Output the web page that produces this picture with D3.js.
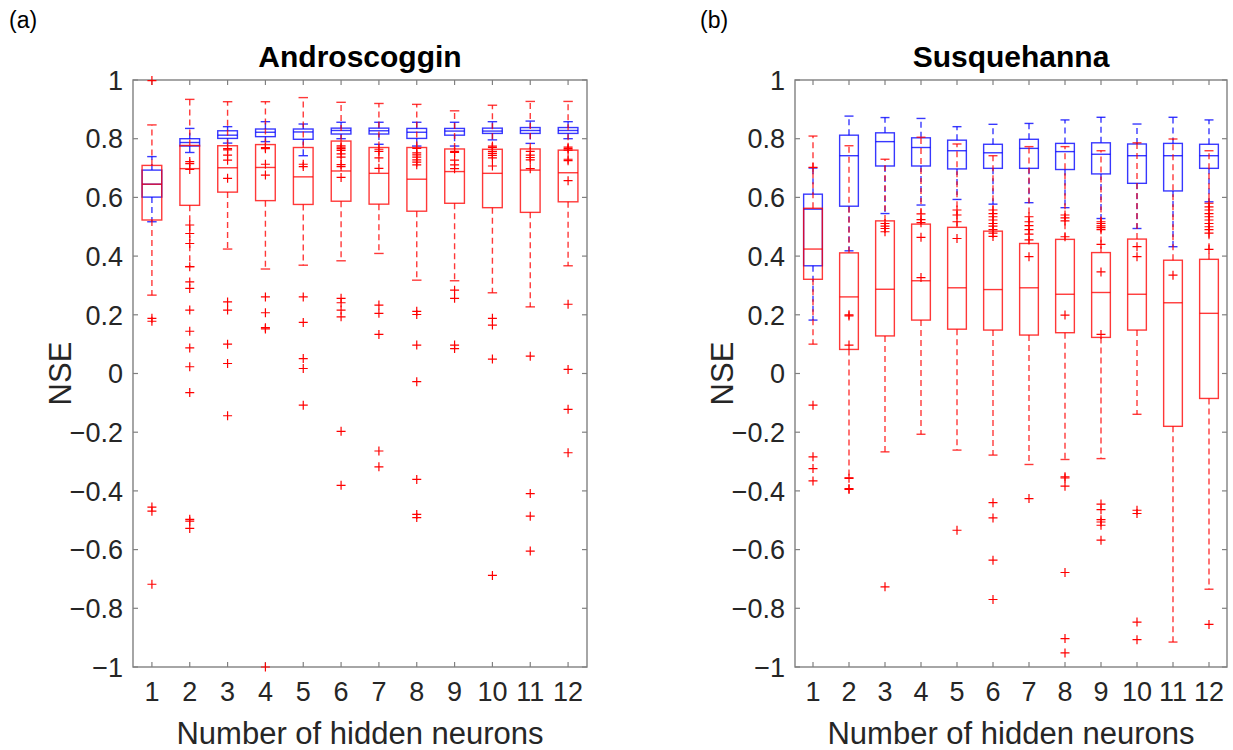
<!DOCTYPE html>
<html>
<head>
<meta charset="utf-8">
<script src="https://cdn.jsdelivr.net/npm/d3@7"></script>
<style>
  body { margin: 0; background: #fff; }
  text { font-family: "Liberation Sans", Arial, Helvetica, sans-serif; }
</style>
</head>
<body>
<svg id="chart" width="1233" height="750"></svg>
<script>
// hidden neuron counts (x categories) and y ticks
const neurons = [1, 2, 3, 4, 5, 6, 7, 8, 9, 10, 11, 12];
const yTicks = [1, 0.8, 0.6, 0.4, 0.2, 0, -0.2, -0.4, -0.6, -0.8, -1];

// each entry: [lower whisker, q1, median, q3, upper whisker]
const androBlue = [
  [0.517, 0.601, 0.645, 0.693, 0.739], [0.753, 0.775, 0.787, 0.800, 0.835],
  [0.785, 0.801, 0.812, 0.827, 0.841], [0.790, 0.807, 0.822, 0.833, 0.858],
  [0.742, 0.798, 0.823, 0.833, 0.850], [0.800, 0.816, 0.828, 0.836, 0.856],
  [0.781, 0.816, 0.827, 0.836, 0.856], [0.775, 0.801, 0.822, 0.835, 0.856],
  [0.775, 0.812, 0.826, 0.835, 0.856], [0.796, 0.818, 0.826, 0.836, 0.858],
  [0.784, 0.818, 0.828, 0.838, 0.860], [0.800, 0.818, 0.828, 0.838, 0.858]
];
const androRed = [
  [0.267, 0.523, 0.645, 0.709, 0.847], [0.364, 0.573, 0.698, 0.777, 0.934],
  [0.424, 0.618, 0.701, 0.776, 0.926], [0.356, 0.589, 0.702, 0.780, 0.926],
  [0.369, 0.576, 0.670, 0.770, 0.940], [0.384, 0.587, 0.690, 0.792, 0.924],
  [0.409, 0.577, 0.682, 0.770, 0.920], [0.318, 0.553, 0.662, 0.770, 0.917],
  [0.316, 0.580, 0.688, 0.765, 0.895], [0.275, 0.565, 0.682, 0.764, 0.914],
  [0.227, 0.549, 0.693, 0.765, 0.927], [0.367, 0.585, 0.684, 0.761, 0.927]
];
const androOutliers = [
  [0.998, 0.188, 0.178, -0.455, -0.469, -0.718],
  [0.722, 0.715, 0.695, 0.506, 0.477, 0.443, 0.364, 0.312, 0.290, 0.216, 0.144, 0.087, 0.023, -0.065, -0.497, -0.503, -0.528],
  [0.766, 0.762, 0.744, 0.727, 0.665, 0.244, 0.216, 0.100, 0.034, -0.144],
  [0.770, 0.766, 0.713, 0.676, 0.261, 0.207, 0.156, 0.152, -1.0],
  [0.713, 0.705, 0.261, 0.174, 0.051, 0.017, -0.108],
  [0.776, 0.771, 0.766, 0.760, 0.748, 0.737, 0.712, 0.705, 0.668, 0.256, 0.241, 0.216, 0.193, -0.197, -0.381],
  [0.764, 0.757, 0.735, 0.699, 0.233, 0.205, 0.133, -0.264, -0.318],
  [0.767, 0.752, 0.745, 0.737, 0.728, 0.720, 0.711, 0.212, 0.201, 0.097, -0.028, -0.361, -0.480, -0.491],
  [0.757, 0.753, 0.727, 0.711, 0.698, 0.284, 0.256, 0.097, 0.085],
  [0.775, 0.770, 0.757, 0.750, 0.743, 0.735, 0.707, 0.188, 0.165, 0.049, -0.688],
  [0.757, 0.744, 0.736, 0.728, 0.698, 0.059, -0.409, -0.486, -0.605],
  [0.771, 0.766, 0.761, 0.730, 0.725, 0.657, 0.236, 0.014, -0.122, -0.270]
];

const susqBlue = [
  [0.182, 0.367, 0.560, 0.611, 0.700], [0.418, 0.570, 0.742, 0.812, 0.877],
  [0.545, 0.707, 0.790, 0.820, 0.872], [0.574, 0.707, 0.770, 0.803, 0.869],
  [0.593, 0.697, 0.759, 0.795, 0.841], [0.577, 0.699, 0.752, 0.781, 0.849],
  [0.582, 0.699, 0.767, 0.798, 0.852], [0.565, 0.695, 0.756, 0.784, 0.864],
  [0.528, 0.680, 0.747, 0.786, 0.873], [0.494, 0.648, 0.742, 0.782, 0.850],
  [0.432, 0.622, 0.742, 0.784, 0.873], [0.585, 0.699, 0.742, 0.781, 0.864]
];
const susqRed = [
  [0.100, 0.321, 0.424, 0.563, 0.809], [-0.355, 0.082, 0.261, 0.411, 0.776],
  [-0.267, 0.128, 0.287, 0.520, 0.730], [-0.207, 0.182, 0.316, 0.509, 0.805],
  [-0.261, 0.151, 0.292, 0.498, 0.782], [-0.278, 0.148, 0.286, 0.485, 0.742],
  [-0.310, 0.131, 0.292, 0.443, 0.773], [-0.293, 0.139, 0.270, 0.457, 0.773],
  [-0.290, 0.123, 0.276, 0.412, 0.759], [-0.139, 0.148, 0.270, 0.458, 0.786],
  [-0.915, -0.180, 0.241, 0.386, 0.799], [-0.735, -0.085, 0.205, 0.389, 0.759]
];
const susqOutliers = [
  [0.702, -0.108, -0.284, -0.324, -0.366],
  [0.200, 0.196, 0.097, -0.357, -0.392, -0.395],
  [0.511, 0.502, 0.494, 0.483, -0.727],
  [0.544, 0.524, 0.514, 0.464, 0.327],
  [0.557, 0.540, 0.517, 0.460, -0.534],
  [0.557, 0.545, 0.534, 0.523, 0.511, 0.502, 0.490, 0.478, 0.467, -0.440, -0.492, -0.636, -0.770],
  [0.534, 0.517, 0.504, 0.490, 0.475, 0.455, 0.398, -0.426],
  [0.540, 0.530, 0.520, 0.466, 0.199, -0.352, -0.356, -0.384, -0.678, -0.903, -0.952],
  [0.517, 0.511, 0.503, 0.497, 0.490, 0.440, 0.346, 0.133, -0.445, -0.464, -0.498, -0.506, -0.517, -0.568],
  [0.432, 0.398, -0.466, -0.477, -0.847, -0.907],
  [0.335],
  [0.580, 0.568, 0.557, 0.545, 0.534, 0.523, 0.511, 0.500, 0.490, 0.478, 0.423, -0.855]
];

const svg = d3.select("#chart");
const axisGrey = "#808080";
const textGrey = "#262626";

function drawPanel(p) {
  let x = d3.scaleBand()
    .domain(neurons)
    .range([p.left, p.right])
    .paddingInner(0).paddingOuter(0);
  let y = d3.scaleLinear().domain([-1, 1]).range([p.bottom, p.top]);
  let step = x.step();
  let cx = d => x(d) + step / 2;
  let boxW = step * 0.52;
  let capW = step * 0.25;

  let g = svg.append("g");

  // axes frame
  g.append("rect")
    .attr("x", p.left).attr("y", p.top)
    .attr("width", p.right - p.left).attr("height", p.bottom - p.top)
    .attr("fill", "none").attr("stroke", axisGrey).attr("stroke-width", 1.4);

  // ticks, pointing inward on all four sides
  let tickLen = 5;
  let tk = g.append("g").attr("stroke", axisGrey).attr("stroke-width", 1.2);
  neurons.forEach(n => {
    tk.append("line").attr("x1", cx(n)).attr("x2", cx(n)).attr("y1", p.bottom).attr("y2", p.bottom - tickLen);
    tk.append("line").attr("x1", cx(n)).attr("x2", cx(n)).attr("y1", p.top).attr("y2", p.top + tickLen);
  });
  yTicks.forEach(t => {
    tk.append("line").attr("x1", p.left).attr("x2", p.left + tickLen).attr("y1", y(t)).attr("y2", y(t));
    tk.append("line").attr("x1", p.right).attr("x2", p.right - tickLen).attr("y1", y(t)).attr("y2", y(t));
  });

  // tick labels
  let fmt = d3.format("~g");
  g.selectAll(".ylab").data(yTicks).enter().append("text")
    .attr("x", p.left - 10).attr("y", d => y(d))
    .attr("dy", "0.36em")
    .attr("text-anchor", "end")
    .attr("font-size", 27).attr("fill", textGrey)
    .text(d => fmt(d));
  g.selectAll(".xlab").data(neurons).enter().append("text")
    .attr("x", d => cx(d)).attr("y", p.bottom + 34)
    .attr("text-anchor", "middle")
    .attr("font-size", 27).attr("fill", textGrey)
    .text(d => d);

  // axis titles
  g.append("text")
    .attr("x", (p.left + p.right) / 2).attr("y", 744)
    .attr("text-anchor", "middle").attr("font-size", 31).attr("fill", textGrey)
    .text("Number of hidden neurons");
  g.append("text")
    .attr("transform", `translate(${p.left - 62},${(p.top + p.bottom) / 2}) rotate(-90)`)
    .attr("text-anchor", "middle").attr("font-size", 31).attr("fill", textGrey)
    .text("NSE");
  g.append("text")
    .attr("x", (p.left + p.right) / 2).attr("y", 67)
    .attr("text-anchor", "middle").attr("font-size", 30).attr("font-weight", "bold")
    .attr("fill", "#000")
    .text(p.title);
  g.append("text")
    .attr("x", p.tagX).attr("y", 28)
    .attr("font-family", "'Open Sans', Lato, sans-serif")
    .attr("font-size", 23).attr("fill", "#000")
    .text(p.tag);

  // box plots: blue series first, red drawn on top
  [[p.blue, "#0000ff"], [p.red, "#ff0000"]].forEach(([series, col]) => {
    let sg = g.append("g")
      .attr("stroke", col).attr("stroke-width", 1.4)
      .attr("stroke-opacity", 0.78).attr("fill", "none");
    series.forEach((s, i) => {
      let n = neurons[i];
      let c = cx(n);
      // whiskers
      sg.append("line").attr("x1", c).attr("x2", c).attr("y1", y(s[3])).attr("y2", y(s[4]))
        .attr("stroke-dasharray", "6,4");
      sg.append("line").attr("x1", c).attr("x2", c).attr("y1", y(s[1])).attr("y2", y(s[0]))
        .attr("stroke-dasharray", "6,4");
      sg.append("line").attr("x1", c - capW / 2).attr("x2", c + capW / 2).attr("y1", y(s[4])).attr("y2", y(s[4]));
      sg.append("line").attr("x1", c - capW / 2).attr("x2", c + capW / 2).attr("y1", y(s[0])).attr("y2", y(s[0]));
      // box + median
      sg.append("rect")
        .attr("x", c - boxW / 2).attr("width", boxW)
        .attr("y", y(s[3])).attr("height", y(s[1]) - y(s[3]));
      sg.append("line").attr("x1", c - boxW / 2).attr("x2", c + boxW / 2).attr("y1", y(s[2])).attr("y2", y(s[2]));
    });
  });

  // outliers as red plus signs
  let pts = [];
  p.outliers.forEach((list, i) => list.forEach(v => pts.push([neurons[i], v])));
  let r = 4.5;
  g.append("g").selectAll("path").data(pts).enter().append("path")
    .attr("d", d => {
      let px = cx(d[0]), py = y(d[1]);
      return `M${px - r},${py}H${px + r}M${px},${py - r}V${py + r}`;
    })
    .attr("stroke", "#ff0000").attr("stroke-width", 1.2).attr("fill", "none");
}

drawPanel({
  left: 133, right: 587, top: 80, bottom: 667,
  title: "Androscoggin", tag: "(a)", tagX: 9,
  blue: androBlue, red: androRed, outliers: androOutliers
});
drawPanel({
  left: 795, right: 1227, top: 80, bottom: 667,
  title: "Susquehanna", tag: "(b)", tagX: 700,
  blue: susqBlue, red: susqRed, outliers: susqOutliers
});
</script>
</body>
</html>
